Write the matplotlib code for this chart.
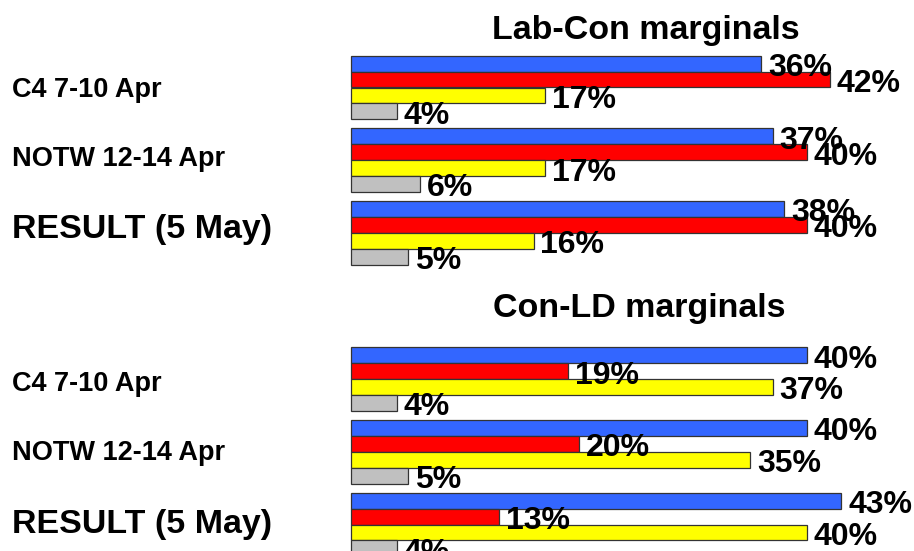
import matplotlib
matplotlib.use("Agg")
import matplotlib.pyplot as plt

# ---- data ----
panel_titles = ["Lab-Con marginals", "Con-LD marginals"]
categories = ["C4 7-10 Apr", "NOTW 12-14 Apr", "RESULT (5 May)"]
# order within each group: blue, red, yellow, grey
labcon_blue = [36, 37, 38]
labcon_red = [42, 40, 40]
labcon_yellow = [17, 17, 16]
labcon_grey = [4, 6, 5]
conld_blue = [40, 40, 43]
conld_red = [19, 20, 13]
conld_yellow = [37, 35, 40]
conld_grey = [4, 5, 4]

series_colors = ["#3366FF", "#FF0000", "#FFFF00", "#C0C0C0"]

# ---- layout (pixels) ----
W, H = 914, 551
DPI = 100
X0 = 351.3          # pixel x of 0 %
PX_PER_PCT = 11.39
BAR_H = 15.9
GROUP_STEP = 72.7
AX_H = 215.0
panel_tops = [55.7, 347.3]
title_centers = [(646, 31), (639, 309)]
cat_baselines = [[96.7, 166.0, 238.3], [391.0, 460.0, 533.0]]
cat_sizes = [19.5, 19.5, 24.5]

plt.rcParams['font.family'] = ['Liberation Sans', 'DejaVu Sans']
fig = plt.figure(figsize=(W / DPI, H / DPI), dpi=DPI)
fig.patch.set_facecolor("white")

panels = [
    [labcon_blue, labcon_red, labcon_yellow, labcon_grey],
    [conld_blue, conld_red, conld_yellow, conld_grey],
]

xmax = (W - X0) / PX_PER_PCT
for p, series in enumerate(panels):
    top = panel_tops[p]
    ax = fig.add_axes([X0 / W, 1 - (top + AX_H) / H, (W - X0) / W, AX_H / H])
    ax.set_xlim(0, xmax)
    ax.set_ylim(AX_H, 0)
    ax.axis("off")
    for s, vals in enumerate(series):
        ys = [g * GROUP_STEP + s * BAR_H + BAR_H / 2 for g in range(len(vals))]
        ax.barh(ys, vals, height=BAR_H, color=series_colors[s],
                edgecolor="#333333", linewidth=0.9, clip_on=False, zorder=2)
    for s, vals in enumerate(series):
        for g, v in enumerate(vals):
            y = g * GROUP_STEP + s * BAR_H + BAR_H / 2
            ax.annotate(f"{v}%", (v, y), xytext=(5, -3.2), textcoords="offset points",
                        ha="left", va="center", fontsize=23, fontweight="bold",
                        color="black", zorder=5, annotation_clip=False)
    cx, cy = title_centers[p]
    fig.text(cx / W, 1 - cy / H, panel_titles[p], ha="center", va="center",
             fontsize=24.5, fontweight="bold")
    for g, cat in enumerate(categories):
        fig.text(12 / W, 1 - cat_baselines[p][g] / H, cat, ha="left",
                 va="baseline", fontsize=cat_sizes[g], fontweight="bold")

fig.savefig("out.png", dpi=DPI)
